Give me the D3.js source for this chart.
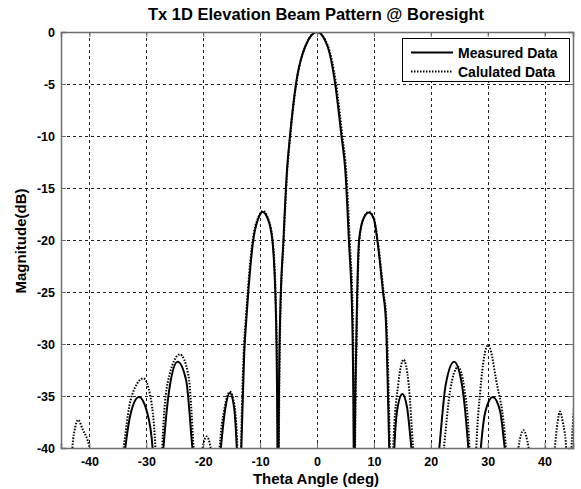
<!DOCTYPE html>
<html>
<head>
<meta charset="utf-8">
<script src="https://cdn.jsdelivr.net/npm/d3@7"></script>
<style>
  body { margin: 0; background: #fff; }
  svg { display: block; font-family: "Liberation Sans", Arial, sans-serif; font-weight: bold; }
</style>
</head>
<body>
<svg id="chart" width="581" height="489"></svg>
<script>
// axis ticks
const xTicks = [-40, -30, -20, -10, 0, 10, 20, 30, 40];
const yTicks = [0, -5, -10, -15, -20, -25, -30, -35, -40];

// Measured Data (theta deg, magnitude dB) - values below -40 are nulls, clipped
const measuredTheta = [-36, -33.7, -32.8, -31.3, -29.9, -28.9, -28.2,
  -27.0, -26.0, -24.5, -23.0, -21.9, -19,
  -16.9, -16.2, -15.3, -14.6, -14.1, -13.7,
  -13.3, -12.8, -12.4, -11.2, -10.3, -9.55, -8.7, -7.85, -7.2, -6.95, -6.85,
  -6.75, -6.5, -5.9, -5.3, -4.75, -3.7, -2, 0, 1.8, 3.2, 4.3, 5.0, 5.6, 6.2, 6.45, 6.55,
  6.65, 6.9, 7.4, 8.2, 9.14, 10.0, 10.6, 11.6, 12.1, 12.7, 13.2,
  13.6, 14.2, 15.0, 15.8, 16.6, 19,
  21.5, 22.6, 24.1, 25.5, 26.6, 27.7,
  28.8, 29.6, 30.9, 32.2, 33.0, 38];
const measuredDb = [-55, -40, -36.8, -35.1, -36.5, -40, -50,
  -40, -34.5, -31.7, -33.5, -40, -55,
  -40, -36.5, -34.7, -36, -40, -46,
  -40, -31, -27.5, -20, -17.9, -17.3, -17.9, -20, -27.7, -40, -55,
  -40, -27.7, -20, -13.5, -10, -5, -1.3, 0, -1.3, -5, -10, -13.5, -20, -27.7, -40, -55,
  -40, -30, -20, -17.9, -17.35, -18, -20, -25, -27.7, -40, -50,
  -40, -36, -34.8, -36, -40, -55,
  -40, -34, -31.7, -34, -40, -50,
  -40, -36.5, -35.1, -36.5, -40, -60];

// Calulated Data
const calcTheta = [-44, -43.0, -42.5, -42.0, -41.2, -40.0, -38,
  -34.0, -33.0, -32.0, -30.5, -29.3, -28.4, -27.7,
  -27.2, -26.2, -24.1, -22.6, -21.7, -20.8,
  -20.1, -19.4, -18.7, -17.9,
  -17.1, -16.3, -15.3, -14.5, -14.0, -13.6,
  -13.35, -12.9, -12.5, -11.3, -10.3, -9.5, -8.7, -7.8, -7.15, -6.9, -6.8,
  -6.7, -6.45, -5.85, -5.25, -4.7, -3.65, -2, 0, 1.9, 3.35, 4.45, 5.15, 5.75, 6.3, 6.5, 6.6,
  6.7, 6.95, 7.45, 8.2, 9.1, 10.0, 10.65, 11.7, 12.2, 12.8, 13.1,
  13.4, 14.3, 15.2, 16.1, 16.9, 19.5,
  22.3, 23.4, 24.8, 25.9, 26.8, 27.4,
  28.0, 28.7, 30.1, 31.5, 33.2, 34.3,
  35.4, 36.3, 37.2, 39.5,
  41.8, 42.3, 42.7, 43.2, 43.8, 44.3,
  44.75, 45.0, 45.3];
const calcDb = [-55, -40, -38, -37.3, -38.2, -40, -55,
  -40, -36, -34.2, -33.3, -35, -40, -50,
  -40, -33.6, -31.0, -33, -40, -50,
  -40, -38.9, -40, -50,
  -40, -36.3, -34.6, -35.9, -40, -48,
  -40, -31, -27.5, -20, -17.8, -17.2, -17.8, -20, -27.7, -40, -55,
  -40, -27.7, -20, -13.5, -10, -5, -1.3, 0, -1.3, -5, -10, -13.5, -20, -27.7, -40, -55,
  -40, -30, -20, -17.9, -17.3, -17.9, -20, -25, -27.7, -40, -50,
  -40, -33.8, -31.5, -33.8, -40, -55,
  -40, -34.5, -32.2, -34.3, -40, -50,
  -40, -34.5, -30.1, -33.5, -40, -55,
  -40, -38.3, -40, -55,
  -40, -37.5, -36.5, -37.5, -40, -50,
  -40, -37.5, -35];

const legendLabels = ['Measured Data', 'Calulated Data'];

const margin = { top: 32, left: 61, width: 512, height: 416 };
const svg = d3.select('#chart');

const x = d3.scaleLinear().domain([-45, 45]).range([margin.left, margin.left + margin.width]);
const y = d3.scaleLinear().domain([-40, 0]).range([margin.top + margin.height, margin.top]);

// clip to plot area
svg.append('defs').append('clipPath').attr('id', 'plot-clip')
  .append('rect')
  .attr('x', margin.left).attr('y', margin.top)
  .attr('width', margin.width).attr('height', margin.height);

// grid
const grid = svg.append('g').attr('class', 'grid')
  .attr('stroke', '#222').attr('stroke-width', 1).attr('stroke-dasharray', '3,3');
grid.selectAll('line.vx').data(xTicks).enter().append('line')
  .attr('x1', d => Math.round(x(d)) + 0.5).attr('x2', d => Math.round(x(d)) + 0.5)
  .attr('y1', margin.top).attr('y2', margin.top + margin.height);
grid.selectAll('line.hy').data(yTicks.filter(d => d > -40 && d < 0)).enter().append('line')
  .attr('y1', d => Math.round(y(d)) + 0.5).attr('y2', d => Math.round(y(d)) + 0.5)
  .attr('x1', margin.left).attr('x2', margin.left + margin.width);

// curves
const line = d3.line()
  .x(d => x(d[0]))
  .y(d => y(d[1]))
  .curve(d3.curveMonotoneX);

const measured = measuredTheta.map((t, i) => [t, measuredDb[i]]);
const calculated = calcTheta.map((t, i) => [t, calcDb[i]]);

const plot = svg.append('g').attr('clip-path', 'url(#plot-clip)');
plot.append('path').datum(calculated)
  .attr('d', line).attr('fill', 'none')
  .attr('stroke', '#000').attr('stroke-width', 2).attr('stroke-dasharray', '1.5,1.5');
plot.append('path').datum(measured)
  .attr('d', line).attr('fill', 'none')
  .attr('stroke', '#000').attr('stroke-width', 2);

// axes (ticks inside), plain hyphen minus like the original
const fmt = d => String(d);
const xAxis = svg.append('g')
  .attr('transform', `translate(0,${margin.top + margin.height})`)
  .call(d3.axisBottom(x).tickValues(xTicks).tickSize(-5).tickPadding(9).tickFormat(fmt));
const xAxisTop = svg.append('g')
  .attr('transform', `translate(0,${margin.top})`)
  .call(d3.axisTop(x).tickValues(xTicks).tickSize(-5).tickFormat(''));
const yAxis = svg.append('g')
  .attr('transform', `translate(${margin.left},0)`)
  .call(d3.axisLeft(y).tickValues(yTicks).tickSize(-5).tickPadding(6).tickFormat(fmt));
const yAxisRight = svg.append('g')
  .attr('transform', `translate(${margin.left + margin.width},0)`)
  .call(d3.axisRight(y).tickValues(yTicks).tickSize(-5).tickFormat(''));

[xAxis, xAxisTop, yAxis, yAxisRight].forEach(g => {
  g.selectAll('.domain').attr('stroke', '#6e6e6e').attr('stroke-width', 1.5);
  g.selectAll('.tick line').attr('stroke', '#6e6e6e');
  g.selectAll('.tick text')
    .attr('fill', '#000')
    .style('font-size', '12.5px')
    .style('font-weight', 'bold')
    .style('font-family', '"Liberation Sans", Arial, sans-serif');
});

// title and axis labels
svg.append('text')
  .attr('x', 316).attr('y', 20)
  .attr('text-anchor', 'middle')
  .style('font-size', '16.5px')
  .text('Tx 1D Elevation Beam Pattern @ Boresight');

svg.append('text')
  .attr('x', 316).attr('y', 484)
  .attr('text-anchor', 'middle')
  .style('font-size', '15px')
  .text('Theta Angle (deg)');

svg.append('text')
  .attr('transform', 'translate(26,241) rotate(-90)')
  .attr('text-anchor', 'middle')
  .style('font-size', '15px')
  .text('Magnitude(dB)');

// legend
const legend = svg.append('g').attr('class', 'legend');
legend.append('rect')
  .attr('x', 402.5).attr('y', 38.5).attr('width', 167).attr('height', 43)
  .attr('fill', '#fff').attr('stroke', '#000').attr('stroke-width', 1);
const legendItems = legend.selectAll('g.item').data(legendLabels).enter().append('g')
  .attr('transform', (d, i) => `translate(0,${52.5 + i * 19})`);
legendItems.append('line')
  .attr('x1', 411).attr('x2', 453).attr('y1', 0).attr('y2', 0)
  .attr('stroke', '#000').attr('stroke-width', 2)
  .attr('stroke-dasharray', (d, i) => i === 0 ? null : '1.5,1.5');
legendItems.append('text')
  .attr('x', 458).attr('y', 5)
  .style('font-size', '14px')
  .text(d => d);
</script>
</body>
</html>
